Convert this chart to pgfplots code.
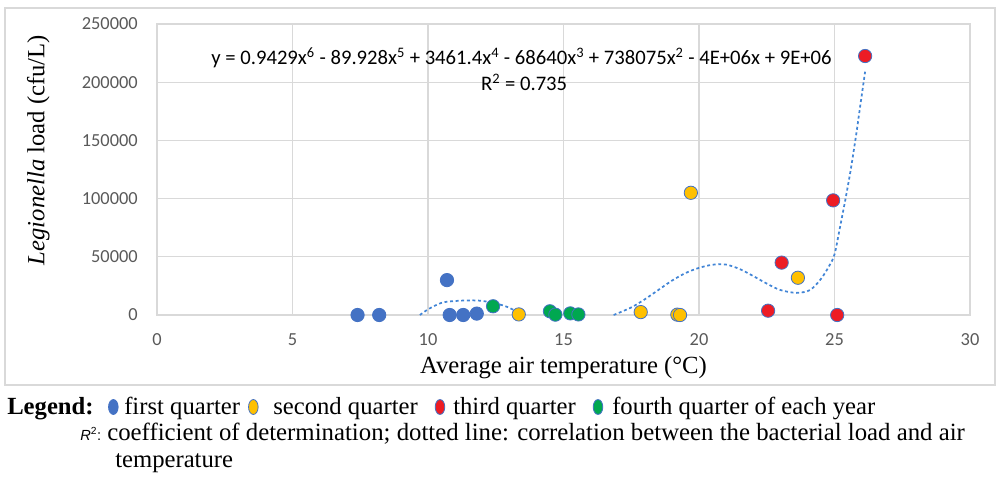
\documentclass[border=0pt]{standalone}
\usepackage{pgfplots}
\pgfplotsset{compat=1.18}
\usepackage{fontspec}
\setmainfont{Liberation Serif}
\newfontfamily\calibri{Carlito}
\newfontfamily\arial{Liberation Sans}

\definecolor{qone}{RGB}{68,114,196}
\definecolor{qtwo}{RGB}{255,192,0}
\definecolor{qthree}{RGB}{237,28,36}
\definecolor{qfour}{RGB}{0,168,80}
\definecolor{rim}{RGB}{68,114,196}
\definecolor{trend}{RGB}{66,133,214}
\definecolor{gridc}{RGB}{217,217,217}
\definecolor{tickc}{RGB}{89,89,89}

\begin{document}
\begin{tikzpicture}
% page is 1000 x 476 px, 1 px = 0.75 pt
\path (0,0) rectangle (750pt,357pt);
\draw[gridc, line width=0.8pt] (3.75pt,68.25pt) rectangle (746.25pt,351pt);

\begin{axis}[
    scale only axis,
    width=609.75pt, height=218.25pt,
    anchor=south west, at={(117.75pt,120.75pt)},
    xmin=0, xmax=30, ymin=0, ymax=250000,
    xtick={0,5,...,30},
    ytick={0,50000,...,250000},
    scaled y ticks=false,
    /pgf/number format/.cd, fixed, 1000 sep={}, assume math mode=true,
    /pgfplots/.cd,
    grid=major,
    grid style={gridc, line width=0.8pt},
    axis line style={gridc, line width=0.8pt},
    major tick length=0pt,
    tick label style={font=\calibri\fontsize{13.8}{14}\selectfont, text=tickc},
    xticklabel style={anchor=base, inner sep=0pt, yshift=-22.5pt},
    yticklabel style={anchor=east, inner sep=0pt, xshift=-14.25pt},
    xlabel={Average air temperature (°C)},
    xlabel style={font=\fontsize{18.5}{20}\selectfont, at={(axis description cs:0.5,0)}, anchor=base, yshift=-43.5pt},
    ylabel={\textit{Legionella} load (cfu/L)},
    ylabel style={font=\fontsize{18.5}{20}\selectfont, at={(axis description cs:-0.146,0.567)}, anchor=center},
    clip=false,
]
% polynomial trend line (two visible pieces)
\addplot[trend, line width=1.3pt, dash pattern=on 2.2pt off 2pt, smooth] coordinates {
  (9.7,0) (10.05,5500) (10.55,10800) (11.2,12300) (11.8,12500) (12.3,11000)
  (12.8,8000) (13.05,5600) (13.4,1500) (13.55,0)
};
\addplot[trend, line width=1.3pt, dash pattern=on 2.2pt off 2pt, smooth] coordinates {
  (16.85,0) (17.5,6500) (18.0,13500) (18.5,21500) (19.0,29500) (19.5,36000)
  (20.0,40500) (20.5,43200) (21.0,43300) (21.5,39500) (22.0,33500) (22.5,27000)
  (23.0,21500) (23.6,19000) (24.1,21500) (24.5,31000) (24.8,42000) (25.0,52000)
  (25.2,75000) (25.4,99000) (25.6,125000) (25.8,155000) (26.0,188000) (26.13,209000)
};
% first quarter
\addplot[only marks, mark=*, mark size=5pt, mark options={fill=qone, draw=rim, line width=0.6pt}] coordinates {
  (7.4,0) (8.2,0) (10.7,30000) (10.8,0) (11.3,0) (11.8,1200)
};
% fourth quarter
\addplot[only marks, mark=*, mark size=5pt, mark options={fill=qfour, draw=rim, line width=0.6pt}] coordinates {
  (12.4,7500) (14.5,3200) (14.7,300) (15.25,1400) (15.55,500)
};
% second quarter
\addplot[only marks, mark=*, mark size=5pt, mark options={fill=qtwo, draw=rim, line width=0.6pt}] coordinates {
  (13.35,500) (17.85,2500) (19.2,300) (19.3,0) (19.7,105000) (23.65,32000)
};
% third quarter
\addplot[only marks, mark=*, mark size=5pt, mark options={fill=qthree, draw=rim, line width=0.6pt}] coordinates {
  (22.55,3700) (23.05,45000) (24.95,98500) (25.1,0) (26.13,222500)
};
\node[font=\calibri\fontsize{15.5}{16}\selectfont, anchor=base] at (axis cs:13.45,215000)
  {y = 0.9429x\textsuperscript{6} - 89.928x\textsuperscript{5} + 3461.4x\textsuperscript{4} - 68640x\textsuperscript{3} + 738075x\textsuperscript{2} - 4E+06x + 9E+06};
\node[font=\calibri\fontsize{15.5}{16}\selectfont, anchor=base] at (axis cs:13.55,193000)
  {R\textsuperscript{2} = 0.735};
\end{axis}

% legend text under the chart
\begin{scope}[every node/.style={font=\fontsize{18.5}{20}\selectfont, inner sep=0pt, anchor=base west}]
\node at (5.25pt,46.5pt) {\bfseries Legend:};
\draw[fill=qone, draw=rim, line width=0.6pt] (85pt,51.75pt) ellipse (3.6pt and 5.6pt);
\node at (93pt,46.5pt) {first quarter};
\draw[fill=qtwo, draw=rim, line width=0.6pt] (190pt,51.75pt) ellipse (3.6pt and 5.6pt);
\node at (204.75pt,46.5pt) {second quarter};
\draw[fill=qthree, draw=rim, line width=0.6pt] (330pt,51.75pt) ellipse (3.6pt and 5.6pt);
\node at (339.75pt,46.5pt) {third quarter};
\draw[fill=qfour, draw=rim, line width=0.6pt] (448.5pt,51.75pt) ellipse (3.6pt and 5.6pt);
\node at (459pt,46.5pt) {fourth quarter of each year};
\node at (60pt,27pt) {\arial\itshape\fontsize{11}{12}\selectfont R\textsuperscript{\upshape 2}\upshape :};
\node[font=\fontsize{18.6}{20}\selectfont] at (80.25pt,27pt) {coefficient of determination; dotted line: correlation between the bacterial load and air};
\node at (86.25pt,6.75pt) {temperature};
\end{scope}
\end{tikzpicture}
\end{document}
